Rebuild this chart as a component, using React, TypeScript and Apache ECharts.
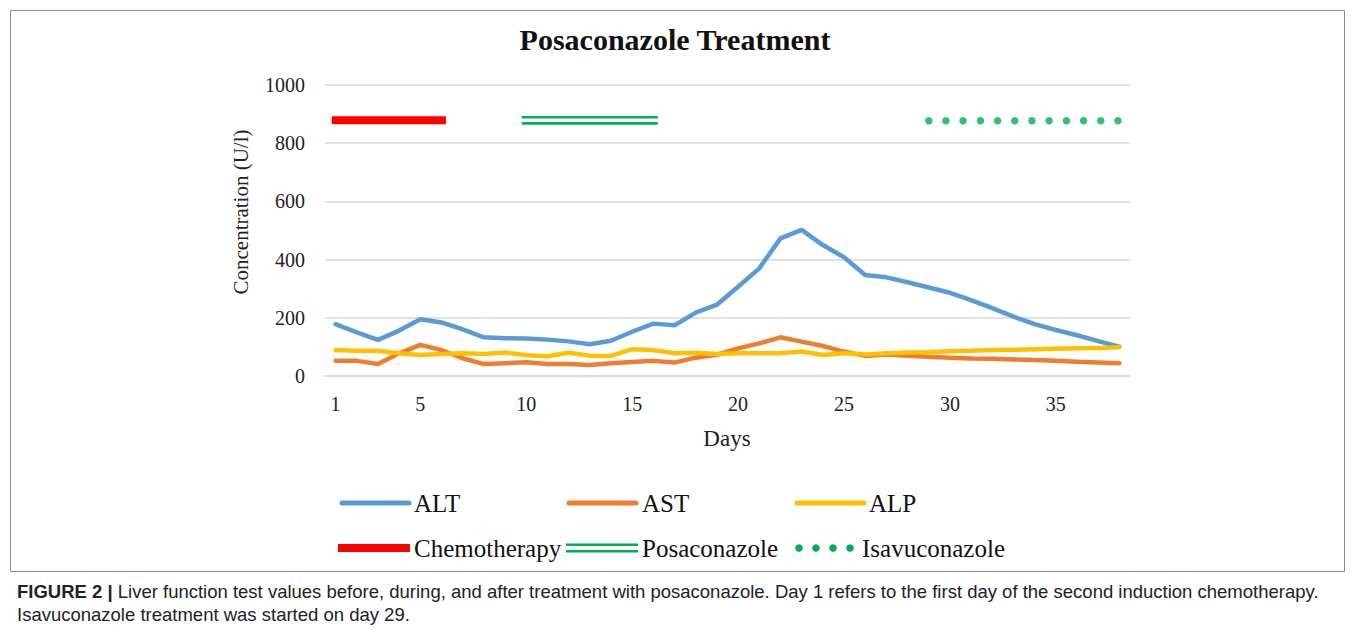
import React, { useEffect, useRef } from "react";
import * as echarts from "echarts";

const days = ["1","2","3","4","5","6","7","8","9","10","11","12","13","14","15","16","17","18","19","20","21","22","23","24","25","26","27","28","29","30","31","32","33","34","35","36","37","38"];
const shownDayLabels = ["1", "5", "10", "15", "20", "25", "30", "35"];
const alt = [178,150,124,156,195,184,160,133,130,129,125,119,109,121,152,180,174,218,245,307,370,473,502,450,408,347,339,322,304,286,261,233,204,178,158,140,120,101];
const ast = [52,52,41,78,107,89,61,41,44,47,41,41,38,44,48,52,46,63,73,95,112,133,118,103,84,69,74,70,66,63,60,59,57,55,52,49,46,44];
const alp = [89,87,87,78,72,76,78,76,81,71,68,80,70,69,92,89,78,80,76,78,78,78,84,72,78,74,78,81,82,85,87,89,90,92,94,95,96,99];
const yTicks = [0, 200, 400, 600, 800, 1000];

// treatment periods (day positions, marker level)
const chemoSpan = [0.82, 6.21];
const chemoLevel = 879;
const posaSpan = [9.79, 16.21];
const posaLevels = [889, 868];
const isavuDots = [29.0, 29.81, 30.62, 31.44, 32.25, 33.06, 33.87, 34.68, 35.5, 36.31, 37.12, 37.93];
const isavuLevel = 877;

const C_ALT = "#5B9BD5";
const C_AST = "#ED7D31";
const C_ALP = "#FFC000";
const C_RED = "#FF0000";
const C_GREEN = "#00B050";
const SERIF = "'Liberation Serif', 'Times New Roman', serif";
const SANS = "'Liberation Sans', Arial, sans-serif";

export default function App() {
  const ref = useRef<HTMLDivElement>(null);
  useEffect(() => {
    const chart = echarts.init(ref.current!, null, { renderer: "svg" });
    const lineSeries = (name: string, data: number[], color: string) => ({
      name,
      type: "line",
      data,
      xAxisIndex: 0,
      yAxisIndex: 0,
      showSymbol: false,
      symbol: "none",
      lineStyle: { color, width: 4.5, cap: "round", join: "round" },
      itemStyle: { color },
      z: 3,
    });
    const legendRow1Y = 503;
    const legendRow2Y = 548;
    const legendText = (x: number, y: number, text: string) => ({
      type: "text",
      style: { x, y, text, fill: "#111", font: `25px ${SERIF}`, textAlign: "left", textVerticalAlign: "middle" },
    });
    const legendLine = (x1: number, x2: number, y: number, color: string, w: number, cap = "round") => ({
      type: "line",
      shape: { x1, y1: y, x2, y2: y },
      style: { stroke: color, lineWidth: w, lineCap: cap },
    });
    const dotGroup = [799, 816, 833, 850].map((cx) => ({
      type: "circle",
      shape: { cx, cy: legendRow2Y, r: 3.8 },
      style: { fill: C_GREEN },
    }));

    chart.setOption({
      animation: false,
      backgroundColor: "#ffffff",
      grid: { left: 325, right: 225, top: 85, bottom: 265, containLabel: false },
      xAxis: [
        {
          type: "category",
          data: days,
          boundaryGap: true,
          axisLine: { show: true, lineStyle: { color: "#D9D9D9", width: 1.5 } },
          axisTick: { show: false },
          axisLabel: {
            interval: (_i: number, v: string) => shownDayLabels.includes(v),
            formatter: (v: string) => (shownDayLabels.includes(v) ? v : ""),
            color: "#222",
            fontFamily: SERIF,
            fontSize: 20,
            margin: 18,
          },
          splitLine: { show: false },
        },
        {
          type: "value",
          min: 0.5,
          max: 38.5,
          show: false,
        },
      ],
      yAxis: {
        type: "value",
        min: 0,
        max: 1000,
        interval: 200,
        axisLine: { show: false },
        axisTick: { show: false },
        axisLabel: {
          color: "#222",
          fontFamily: SERIF,
          fontSize: 20,
          margin: 20,
          customValues: yTicks,
          formatter: (v: number) => String(v),
        },
        splitLine: { show: true, lineStyle: { color: "#D9D9D9", width: 1.5 } },
      },
      series: [
        lineSeries("ALT", alt, C_ALT),
        lineSeries("AST", ast, C_AST),
        lineSeries("ALP", alp, C_ALP),
        {
          name: "Chemotherapy",
          type: "line",
          xAxisIndex: 1,
          yAxisIndex: 0,
          data: chemoSpan.map((d) => [d, chemoLevel]),
          symbol: "none",
          lineStyle: { color: C_RED, width: 8, cap: "butt" },
        },
        ...posaLevels.map((lv) => ({
          name: "Posaconazole",
          type: "line",
          xAxisIndex: 1,
          yAxisIndex: 0,
          data: posaSpan.map((d) => [d, lv]),
          symbol: "none",
          lineStyle: { color: C_GREEN, width: 2.6, cap: "butt" },
        })),
        {
          name: "Isavuconazole",
          type: "scatter",
          xAxisIndex: 1,
          yAxisIndex: 0,
          data: isavuDots.map((d) => [d, isavuLevel]),
          symbol: "circle",
          symbolSize: 7.5,
          itemStyle: { color: C_GREEN },
        },
      ],
      graphic: [
        {
          type: "rect",
          shape: { x: 10.5, y: 10.5, width: 1334, height: 561 },
          style: { fill: "none", stroke: "#8C8C8C", lineWidth: 1 },
          silent: true,
        },
        {
          type: "text",
          style: {
            x: 675, y: 39, text: "Posaconazole Treatment", fill: "#111",
            font: `bold 30px ${SERIF}`, textAlign: "center", textVerticalAlign: "middle",
          },
        },
        {
          type: "text",
          x: 241,
          y: 212,
          rotation: Math.PI / 2,
          style: {
            x: 0, y: 0, text: "Concentration (U/l)", fill: "#222",
            font: `21px ${SERIF}`, textAlign: "center", textVerticalAlign: "middle",
          },
        },
        {
          type: "text",
          style: {
            x: 727, y: 438, text: "Days", fill: "#222",
            font: `23px ${SERIF}`, textAlign: "center", textVerticalAlign: "middle",
          },
        },
        legendLine(342, 409, legendRow1Y, C_ALT, 5),
        legendText(414, legendRow1Y, "ALT"),
        legendLine(569, 636, legendRow1Y, C_AST, 5),
        legendText(642, legendRow1Y, "AST"),
        legendLine(797, 864, legendRow1Y, C_ALP, 5),
        legendText(869, legendRow1Y, "ALP"),
        legendLine(338, 410, legendRow2Y, C_RED, 8, "butt"),
        legendText(414, legendRow2Y, "Chemotherapy"),
        legendLine(566, 638, legendRow2Y - 3.3, C_GREEN, 2.6, "butt"),
        legendLine(566, 638, legendRow2Y + 3.3, C_GREEN, 2.6, "butt"),
        legendText(642, legendRow2Y, "Posaconazole"),
        ...dotGroup,
        legendText(862, legendRow2Y, "Isavuconazole"),
        {
          type: "text",
          style: {
            x: 17, y: 591,
            text: "{b|FIGURE 2 |} Liver function test values before, during, and after treatment with posaconazole. Day 1 refers to the first day of the second induction chemotherapy.",
            fill: "#222",
            font: `18.5px ${SANS}`,
            textAlign: "left",
            textVerticalAlign: "middle",
            rich: { b: { fontWeight: "bold", fontFamily: SANS, fontSize: 18.5, fill: "#222" } },
          },
        },
        {
          type: "text",
          style: {
            x: 17, y: 614,
            text: "Isavuconazole treatment was started on day 29.",
            fill: "#222",
            font: `18.5px ${SANS}`,
            textAlign: "left",
            textVerticalAlign: "middle",
          },
        },
      ],
    });
    return () => chart.dispose();
  }, []);
  return <div ref={ref} style={{ position: "fixed", left: 0, top: 0, width: 1355, height: 641 }} />;
}
